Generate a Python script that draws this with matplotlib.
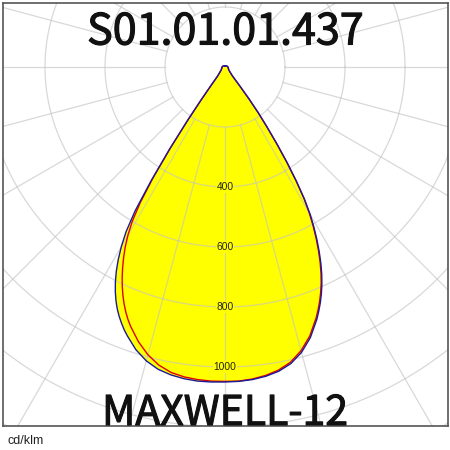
import numpy as np
import matplotlib
matplotlib.use("Agg")
import matplotlib.pyplot as plt
import matplotlib.patheffects as pe

# gamma angles (degrees from nadir)
angles = [0, 2.5, 5, 7.5, 10, 12.5, 15, 17.5, 20,
          21, 22, 23, 24, 25, 26, 27, 28, 29, 30,
          31, 32, 33, 34, 35, 36, 37, 38, 39, 40,
          45, 50, 60, 70, 80, 90, 100, 110, 120, 135, 150, 165, 180]
# C0 plane (blue, right half), cd/klm
c0 = [1050, 1049, 1046, 1040, 1030, 1013, 985, 946, 895,
      872, 848, 822, 794, 763, 729, 692, 653, 612, 568,
      515, 450, 380, 310, 245, 190, 130, 78, 50, 37,
      24, 18, 14, 12, 11, 10, 9, 8, 7, 5, 4, 3, 3]
# C180 plane (blue, left half)
c180 = [1050, 1051, 1051, 1048, 1042, 1032, 1014, 988, 953,
        938, 921, 903, 883, 860, 834, 805, 772, 734, 691,
        640, 565, 452, 330, 220, 135, 82, 55, 42, 35,
        24, 18, 14, 12, 11, 10, 9, 8, 7, 5, 4, 3, 3]
# C90 plane (red, right half)
c90 = [1049, 1048, 1044, 1037, 1026, 1008, 979, 940, 889,
       866, 842, 816, 788, 757, 723, 686, 647, 606, 562,
       510, 445, 376, 306, 242, 187, 128, 76, 48, 36,
       23, 17, 13, 11, 10, 9, 8, 7, 6, 5, 4, 3, 3]
# C270 plane (red, left half)
c270 = [1048, 1048, 1046, 1042, 1034, 1018, 993, 960, 920,
        902, 882, 860, 836, 810, 782, 752, 720, 686, 647,
        600, 533, 440, 325, 215, 130, 78, 52, 40, 34,
        23, 17, 13, 11, 10, 9, 8, 7, 6, 5, 4, 3, 3]

ring_values = [200, 400, 600, 800, 1000, 1200, 1400]
ring_labels = ["400", "600", "800", "1000"]
title = "S01.01.01.437"
subtitle = "MAXWELL-12"
unit = "cd/klm"


def loop(right, left):
    a = np.radians(np.array(angles, dtype=float))
    th = np.concatenate([-a[::-1], a[1:]])
    r = np.concatenate([np.array(left, float)[::-1], np.array(right, float)[1:]])
    return r * np.sin(th), -r * np.cos(th)


W = H = 450
fig = plt.figure(figsize=(4.5, 4.5), dpi=100)
ax = fig.add_axes([3 / W, 24 / H, 445 / W, 423 / H])
ax.set_xlim(-740, 743.3)
ax.set_ylim(-1196.7, 213.3)
ax.set_xticks([])
ax.set_yticks([])
for s in ax.spines.values():
    s.set_color("#555555")
    s.set_linewidth(1.2)

xb, yb = loop(c0, c180)
xr, yr = loop(c90, c270)
ax.fill(xb, yb, color="#ffff00", zorder=1, lw=0)

gcol = "#c4c4c4"
t = np.linspace(0, 2 * np.pi, 721)
for rv in ring_values:
    ax.plot(rv * np.cos(t), rv * np.sin(t), color=gcol, lw=0.9, alpha=0.65, zorder=2)
for deg in range(0, 360, 15):
    a = np.radians(deg)
    ax.plot([200 * np.sin(a), 2000 * np.sin(a)], [-200 * np.cos(a), -2000 * np.cos(a)],
            color=gcol, lw=0.9, alpha=0.65, zorder=2)

ax.plot(xr, yr, color="#e00000", lw=1.0, zorder=3, solid_joinstyle="round")
ax.plot(xb, yb, color="#1a1a9a", lw=1.0, zorder=4, solid_joinstyle="round")

for lab in ring_labels:
    ax.text(0, -float(lab), lab, ha="center", va="center", fontsize=7.4,
            family="Liberation Sans", color="#222222", zorder=5,
            bbox=dict(facecolor="#ffff00", edgecolor="none", pad=0.6))

thick = [pe.withStroke(linewidth=0.8, foreground="#111111")]
fig.text(0.5, 1 - 44.5 / H, title, ha="center", va="baseline", fontsize=31,
         family="Noto Sans CJK SC", color="#111111", zorder=10, path_effects=thick)
fig.text(0.5, 1 - 425 / H, subtitle, ha="center", va="baseline", fontsize=29.5,
         family="Noto Sans CJK SC", color="#111111", zorder=10, path_effects=thick)
fig.text(8 / W, 1 - 444 / H, unit, ha="left", va="baseline", fontsize=9,
         family="Liberation Sans", color="#222222")

fig.savefig("out.png", dpi=100, facecolor="white")
